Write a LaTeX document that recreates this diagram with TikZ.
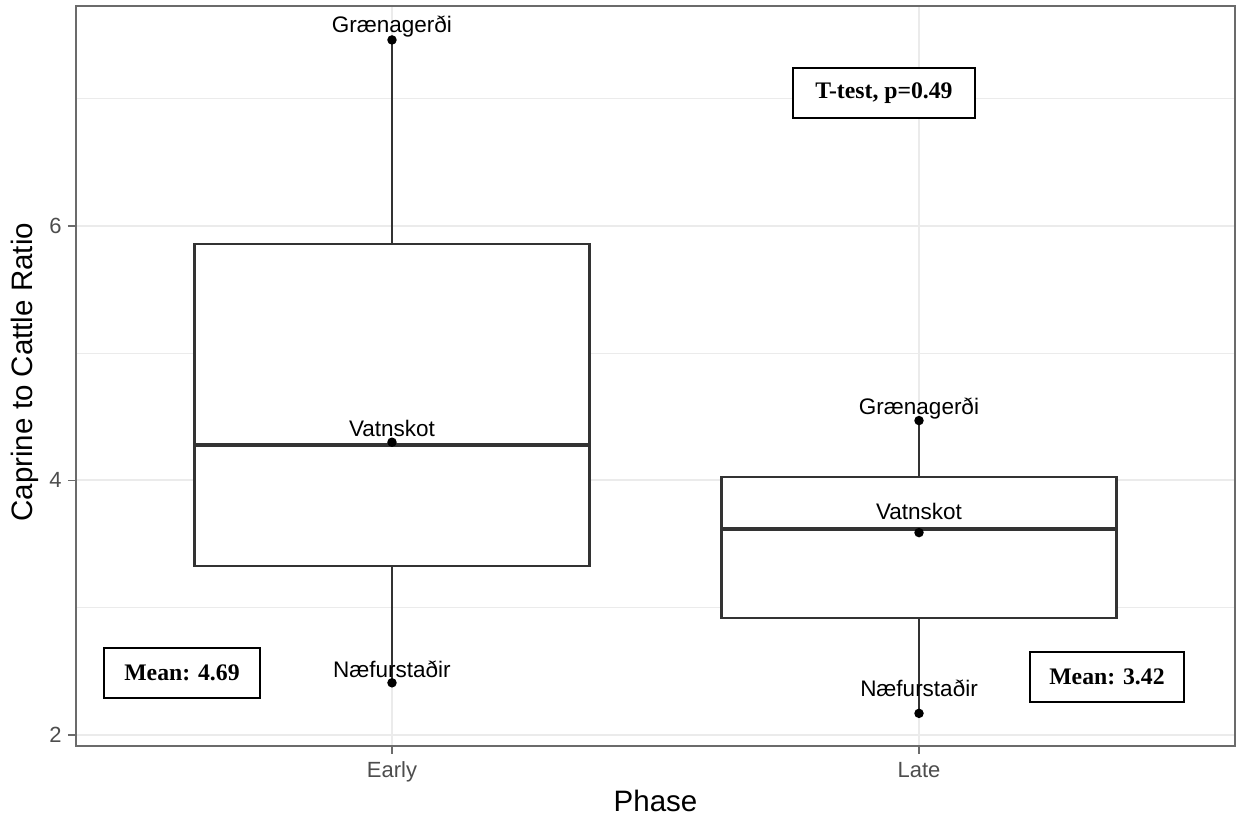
\documentclass[tikz,border=0pt]{standalone}
\usepackage{fontspec}
\setmainfont{Liberation Sans}
\newfontfamily\statfont{Liberation Serif}
\usepackage{tikz}
\definecolor{gridgrey}{HTML}{EBEBEB}
\definecolor{boxgrey}{HTML}{333333}
\definecolor{panelgrey}{HTML}{6B6B6B}
\definecolor{ticktext}{HTML}{4D4D4D}

\begin{document}
\begin{tikzpicture}[x=10.54cm,y=2.546cm,
  majorgrid/.style={gridgrey,line width=1.1pt},
  minorgrid/.style={gridgrey,line width=0.6pt},
  boxline/.style={boxgrey,line width=1.3pt},
  medline/.style={boxgrey,line width=2.4pt},
  axistick/.style={panelgrey,line width=1pt},
  site/.style={anchor=base,inner sep=0pt,font=\fontsize{12.8}{14}\selectfont},
  ticklab/.style={ticktext,inner sep=0pt,font=\fontsize{12.5}{14}\selectfont},
  axistitle/.style={inner sep=0pt,font=\fontsize{16.8}{19}\selectfont},
  statbox/.style={draw,fill=white,line width=0.8pt,minimum height=1cm,inner sep=0pt,
    font=\statfont\bfseries\fontsize{13.5}{15}\selectfont}]
\useasboundingbox (0.2562,1.3637) rectangle (2.6053,7.7738);

\foreach \y in {3,5,7} \draw[minorgrid] (0.4,\y) -- (2.6,\y);
\foreach \y in {2,4,6} \draw[majorgrid] (0.4,\y) -- (2.6,\y);
\draw[majorgrid] (1,1.914) -- (1,7.726);
\draw[majorgrid] (2,1.914) -- (2,7.726);

\draw[boxline] (1,5.857) -- (1,7.46);
\draw[boxline] (1,3.328) -- (1,2.41);
\draw[boxline,fill=white] (0.625,3.328) rectangle (1.375,5.857);
\draw[medline] (0.625,4.278) -- (1.375,4.278);

\draw[boxline] (2,4.027) -- (2,4.47);
\draw[boxline] (2,2.919) -- (2,2.17);
\draw[boxline,fill=white] (1.625,2.919) rectangle (2.375,4.027);
\draw[medline] (1.625,3.618) -- (2.375,3.618);

\fill (1,7.46) circle (0.095cm);
\fill (1,4.30) circle (0.095cm);
\fill (1,2.41) circle (0.095cm);
\fill (2,4.47) circle (0.095cm);
\fill (2,3.59) circle (0.095cm);
\fill (2,2.17) circle (0.095cm);

\node[site] (earlyGr) at (1,7.515) {Grænagerði};
\node[site] (earlyVa) at (1,4.341) {Vatnskot};
\node[site] (earlyNa) at (1,2.448) {Næfurstaðir};
\node[site] (lateGr) at (2,4.514) {Grænagerði};
\node[site] (lateVa) at (2,3.689) {Vatnskot};
\node[site] (lateNa) at (2,2.299) {Næfurstaðir};

\draw[panelgrey,line width=1pt] (0.4,1.914) rectangle (2.6,7.726);
\foreach \y in {2,4,6} {
  \draw[axistick] (0.385,\y) -- (0.4,\y);
  \node[ticklab,anchor=east] (ytick\y) at (0.3738,\y) {\y};
}
\draw[axistick] (1,1.914) -- (1,1.851);
\draw[axistick] (2,1.914) -- (2,1.851);
\node[ticklab,anchor=base] (xEarly) at (1,1.670) {Early};
\node[ticklab,anchor=base] (xLate) at (2,1.670) {Late};

\node[axistitle,anchor=base] (xtitle) at (1.5,1.403) {Phase};
\node[axistitle,anchor=base,rotate=90] (ytitle) at (0.3188,4.85) {Caprine to Cattle Ratio};

\node[statbox,minimum width=3.12cm] (meanEarly) at (0.6015,2.487) {Mean: 4.69};
\node[statbox,minimum width=3.08cm] (meanLate) at (2.3567,2.456) {Mean: 3.42};
\node[statbox,minimum width=3.64cm] (ttest) at (1.9336,7.043) {T-test, p=0.49};
\end{tikzpicture}
\end{document}
